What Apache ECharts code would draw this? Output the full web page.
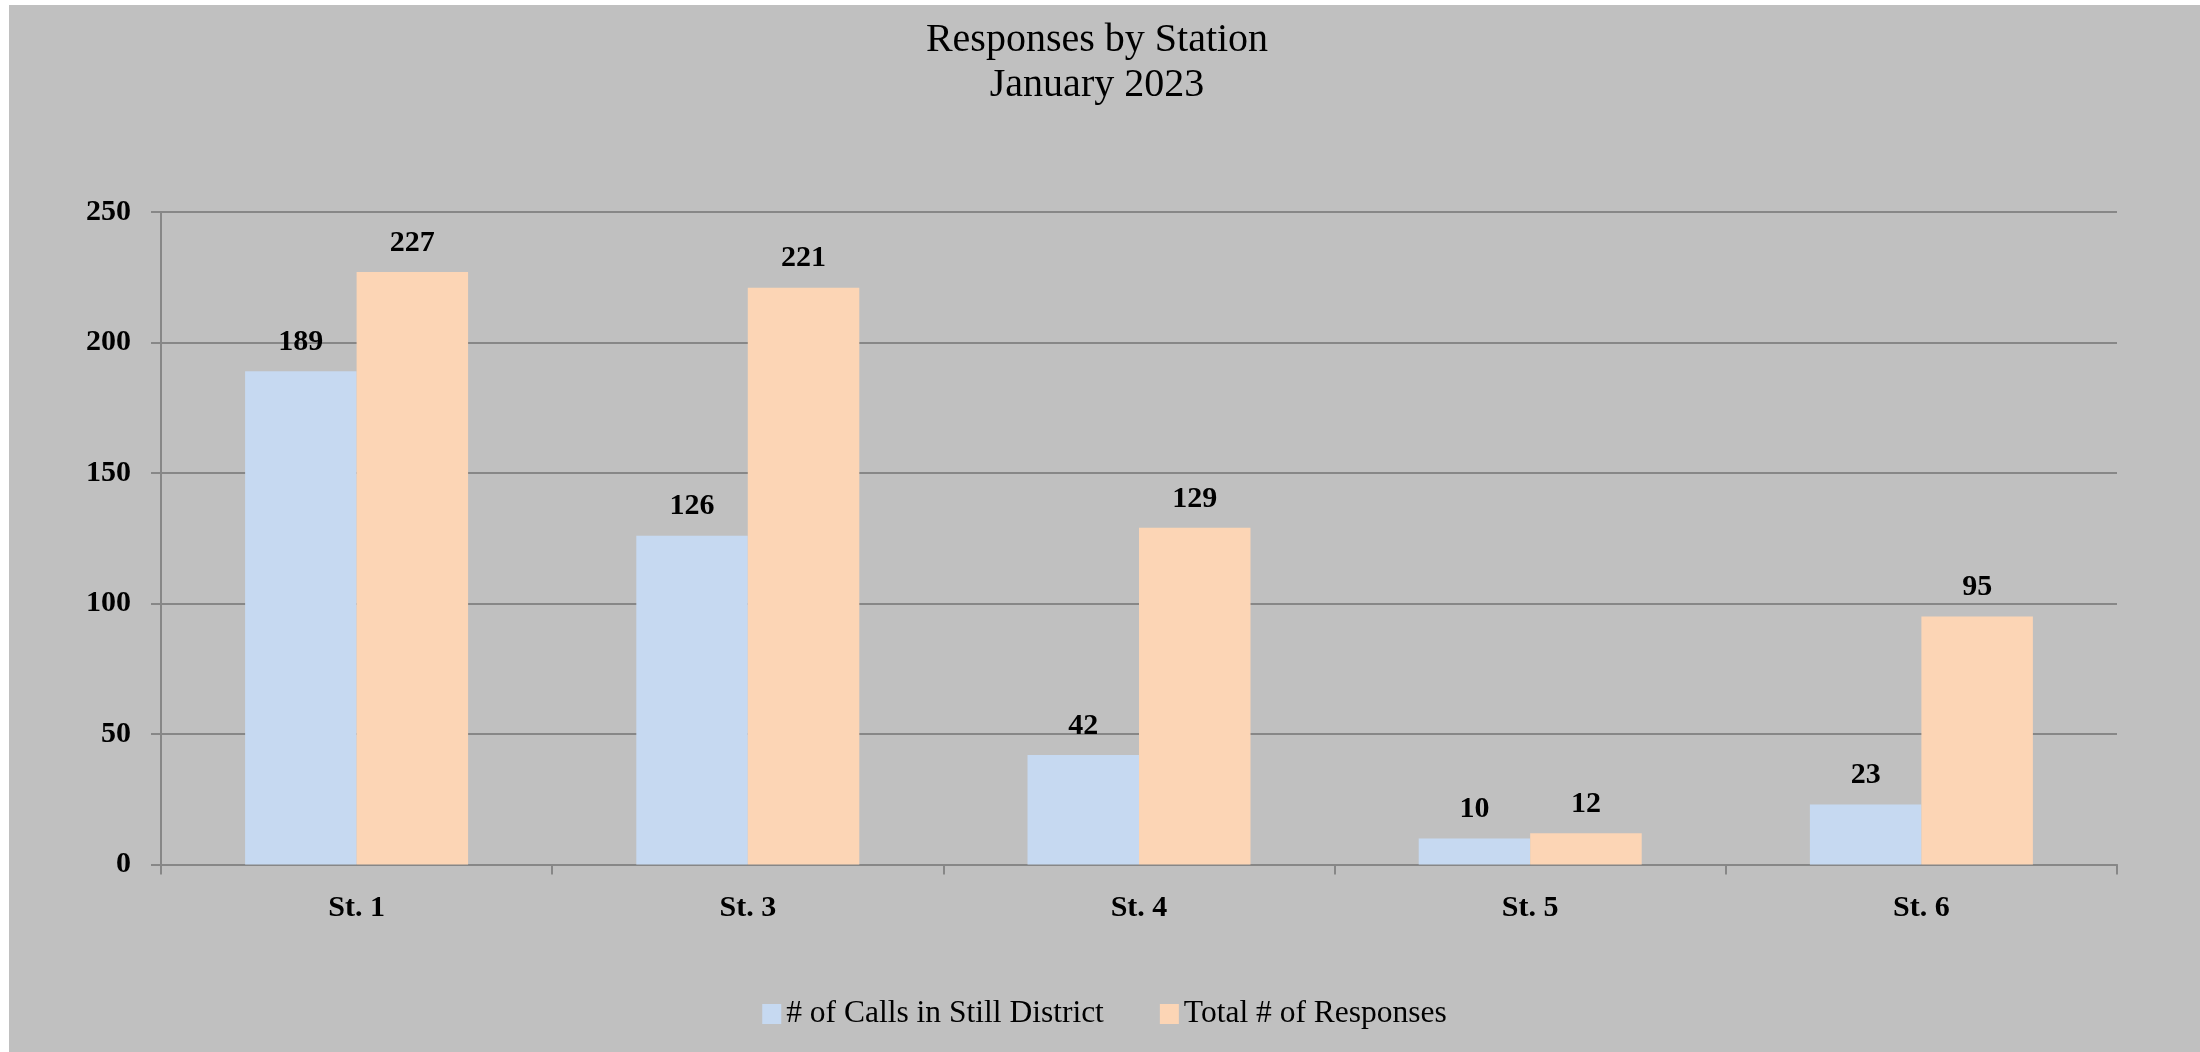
<!DOCTYPE html>
<html>
<head>
<meta charset="utf-8">
<script src="https://cdn.jsdelivr.net/npm/echarts@6/dist/echarts.min.js"></script>
<style>
  html, body { margin: 0; padding: 0; background: #ffffff; }
  #chart { position: absolute; left: 9px; top: 5px; width: 2191px; height: 1047px; }
</style>
</head>
<body>
<div id="chart"></div>
<script>
// Stations along the x axis
const stations = ['St. 1', 'St. 3', 'St. 4', 'St. 5', 'St. 6'];
// Series values per station
const callsInStillDistrict = [189, 126, 42, 10, 23];
const totalResponses = [227, 221, 129, 12, 95];
// Series names
const seriesNames = ['# of Calls in Still District', 'Total # of Responses'];
// Value axis range
const yMin = 0, yMax = 250, yStep = 50;

const serif = '"Liberation Serif", "DejaVu Serif", serif';
const gridGray = '#878787';

const chart = echarts.init(document.getElementById('chart'), null, { renderer: 'canvas' });

const labelStyle = {
  show: true,
  position: 'top',
  distance: 14,
  color: '#000',
  fontFamily: serif,
  fontWeight: 'bold',
  fontSize: 30
};

chart.setOption({
  backgroundColor: '#c0c0c0',
  animation: false,
  title: {
    text: 'Responses by Station\nJanuary 2023',
    left: 1083,
    top: 8,
    textAlign: 'center',
    textStyle: {
      fontFamily: serif,
      fontWeight: 'normal',
      fontSize: 40,
      lineHeight: 45,
      color: '#000'
    }
  },
  legend: {
    data: seriesNames,
    bottom: 17,
    left: 'center',
    itemWidth: 19,
    itemHeight: 20,
    itemGap: 56,
    icon: 'rect',
    textStyle: {
      fontFamily: serif,
      fontSize: 31.5,
      color: '#000',
      padding: [0, 0, 0, 0]
    }
  },
  grid: {
    left: 152,
    right: 83,
    top: 207,
    bottom: 187.5,
    containLabel: false
  },
  xAxis: {
    type: 'category',
    data: stations,
    axisLine: { show: true, lineStyle: { color: gridGray, width: 2 } },
    axisTick: { show: true, length: 10, alignWithLabel: false, lineStyle: { color: gridGray, width: 2 } },
    axisLabel: {
      margin: 29,
      color: '#000',
      fontFamily: serif,
      fontWeight: 'bold',
      fontSize: 30
    }
  },
  yAxis: {
    type: 'value',
    min: yMin,
    max: yMax,
    interval: yStep,
    axisLine: { show: true, lineStyle: { color: gridGray, width: 2 } },
    axisTick: { show: true, length: 10, lineStyle: { color: gridGray, width: 2 } },
    splitLine: { show: true, lineStyle: { color: gridGray, width: 2 } },
    axisLabel: {
      margin: 30,
      color: '#000',
      fontFamily: serif,
      fontWeight: 'bold',
      fontSize: 30
    }
  },
  series: [
    {
      name: seriesNames[0],
      type: 'bar',
      data: callsInStillDistrict,
      itemStyle: { color: '#c6d9f1' },
      barGap: '0%',
      barCategoryGap: '43%',
      label: labelStyle
    },
    {
      name: seriesNames[1],
      type: 'bar',
      data: totalResponses,
      itemStyle: { color: '#fcd5b5' },
      barGap: '0%',
      barCategoryGap: '43%',
      label: labelStyle
    }
  ]
});
</script>
</body>
</html>
